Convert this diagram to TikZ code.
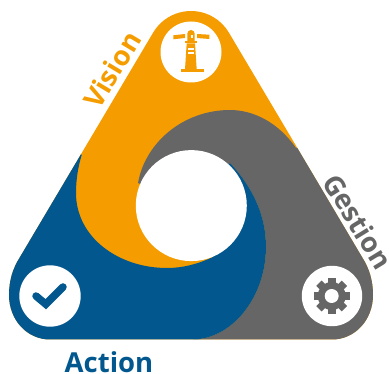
\documentclass[tikz,border=0pt]{standalone}
\usepackage{fontspec}
\setmainfont{Open Sans}
\definecolor{vorange}{HTML}{F59D00}
\definecolor{ablue}{HTML}{02588E}
\definecolor{ggray}{HTML}{666666}
\tikzset{lbl/.style={font=\fontsize{27.5}{30}\selectfont\bfseries,inner sep=0pt}}
\begin{document}
\begin{tikzpicture}[x=1pt,y=1pt]
\useasboundingbox (0,0) rectangle (389,-374);
\begin{scope}
\clip (152.9,-33) arc[start angle=150,end angle=30,radius=44]
  -- (362,-257) .. controls (369,-268) and (373,-280) .. (373,-295)
  .. controls (373,-320) and (355,-339.5) .. (332,-339.5)
  -- (50,-339.5) .. controls (27,-339.5) and (9,-320) .. (9,-295)
  .. controls (9,-280) and (13,-268) .. (20,-257) -- cycle;
\fill[vorange] (0,0) rectangle (389,-374);
% gray
\fill[ggray] (138,-183) .. controls (145,-143) and (183,-110) .. (230,-110)
  .. controls (253,-110) and (278,-122) .. (296,-148) -- (389,-148) -- (389,-374) -- (193,-374) -- (193,-339.5)
  .. controls (232,-339) and (266,-297) .. (266,-247)
  .. controls (266,-218) and (255,-190) .. (230,-163) -- (191,-205) -- cycle;
% blue
\fill[ablue] (81.7,-155) .. controls (78,-167) and (76,-180) .. (76,-193)
  .. controls (76,-237) and (118,-268) .. (167,-268)
  .. controls (183,-268) and (198,-264) .. (213,-257) -- (191,-205) -- (230,-163)
  .. controls (255,-190) and (266,-218) .. (266,-247)
  .. controls (266,-297) and (232,-339) .. (193,-339.5) -- (193,-374) -- (0,-374) -- (0,-60) -- cycle;
\end{scope}
% hole and badges
\fill[white] (191.3,-205.6) circle[radius=55.5];
\fill[white] (191,-52) circle[radius=30.5];
\fill[white] (50,-296) circle[radius=30.7];
\fill[white] (332,-296) circle[radius=30.2];
% check
\draw[ablue,line width=7.5pt,line join=miter,line cap=round] (36,-296) -- (45.8,-304.2) -- (63,-287);
% gear
\begin{scope}[shift={(331.7,-296)}]
\foreach \a in {0,45,...,315}{
  \fill[ggray,rotate=\a] (-3.8,0) -- (-3.8,-18) -- (3.8,-18) -- (3.8,0) -- cycle;
}
\fill[ggray] (0,0) circle[radius=14];
\fill[white] (0,0) circle[radius=7];
\end{scope}
% lighthouse
\fill[vorange] (181,-69.3) rectangle (204,-72);
\fill[vorange] (186.7,-43.3) -- (195,-43.3) -- (196.7,-69.5) -- (185,-69.5) -- cycle;
\fill[vorange] (185,-40.7) rectangle (196.7,-43.5);
\fill[vorange] (187.3,-41) -- (187.3,-33.7) arc[start angle=180,end angle=0,radius=3.7] -- (194.7,-41) -- cycle;
\fill[vorange] (173.3,-35.3) -- (185,-34) -- (185,-38) -- (173.3,-39.3) -- cycle;
\fill[vorange] (209.3,-34.7) -- (197,-34) -- (197,-38) -- (209.3,-39) -- cycle;
\fill[white] (188.3,-47.7) rectangle (194,-50);
\fill[white] (188.3,-51.7) rectangle (194,-54);
\fill[white] (191,-35) rectangle (193,-38);
% labels
\node[lbl,text=vorange,rotate=59] (vision) at (112,-69.5) {Vision};
\node[lbl,text=ggray,rotate=-58.5] (gestion) at (358,-221.5) {Gestion};
\node[lbl,text=ablue] (action) at (109,-362) {Action};
\end{tikzpicture}
\end{document}
